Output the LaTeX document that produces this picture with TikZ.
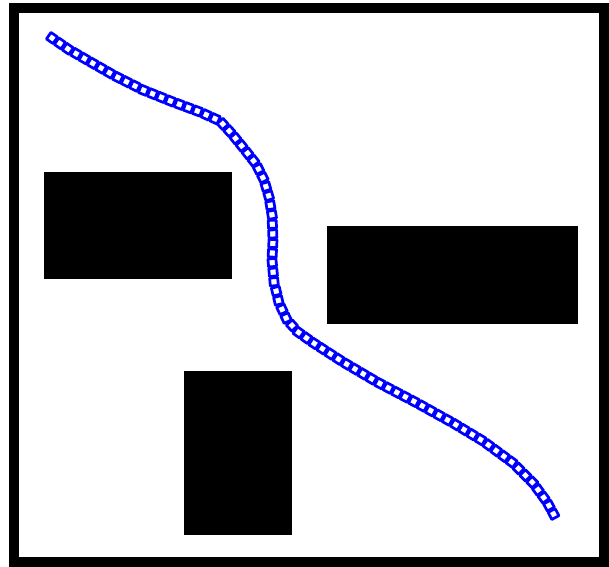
\documentclass[tikz,border=0pt]{standalone}
\usetikzlibrary{decorations.markings}

\begin{document}
\begin{tikzpicture}[
    % Define styles
    frame/.style={draw=black, line width=0.25cm},
    obstacle/.style={fill=black},
    cell/.style={draw=blue, line width=0.068cm, line join=round},
    route/.style={postaction={decorate, decoration={markings,
        mark=between positions 0 and 1 step 0.24cm with {\draw[cell] (-0.1,-0.1) rectangle (0.1,0.1);}}}},
]

% Fixing the page size
\useasboundingbox (0,0) rectangle (15.225,14.15);

% Drawing the map border
\draw[frame] (0.35,13.95) rectangle (15.0875,0.1125);

% Drawing the obstacles
\fill[obstacle] (1.1,9.85) rectangle (5.8,7.175);
\fill[obstacle] (8.175,8.5) rectangle (14.45,6.05);
\fill[obstacle] (4.6,4.875) rectangle (7.3,0.775);

% Drawing the planned path as a chain of cells
\path[route] plot coordinates {
    (1.3,13.2) (1.7,12.925) (2.175,12.65) (2.875,12.25) (3.575,11.9)
    (4.325,11.6) (5.0,11.35) (5.5,11.125) (5.8,10.8) (6.125,10.4)
    (6.4,10.05) (6.6,9.65) (6.725,9.225) (6.8,8.775) (6.825,8.15)
    (6.8,7.65) (6.85,7.1) (6.975,6.575) (7.175,6.15) (7.45,5.85)
    (7.8,5.6) (8.575,5.1) (9.425,4.6) (10.425,4.075) (11.325,3.575)
    (12.075,3.125) (12.825,2.575) (13.325,2.075) (13.675,1.6) (13.85,1.275)};

\end{tikzpicture}
\end{document}
